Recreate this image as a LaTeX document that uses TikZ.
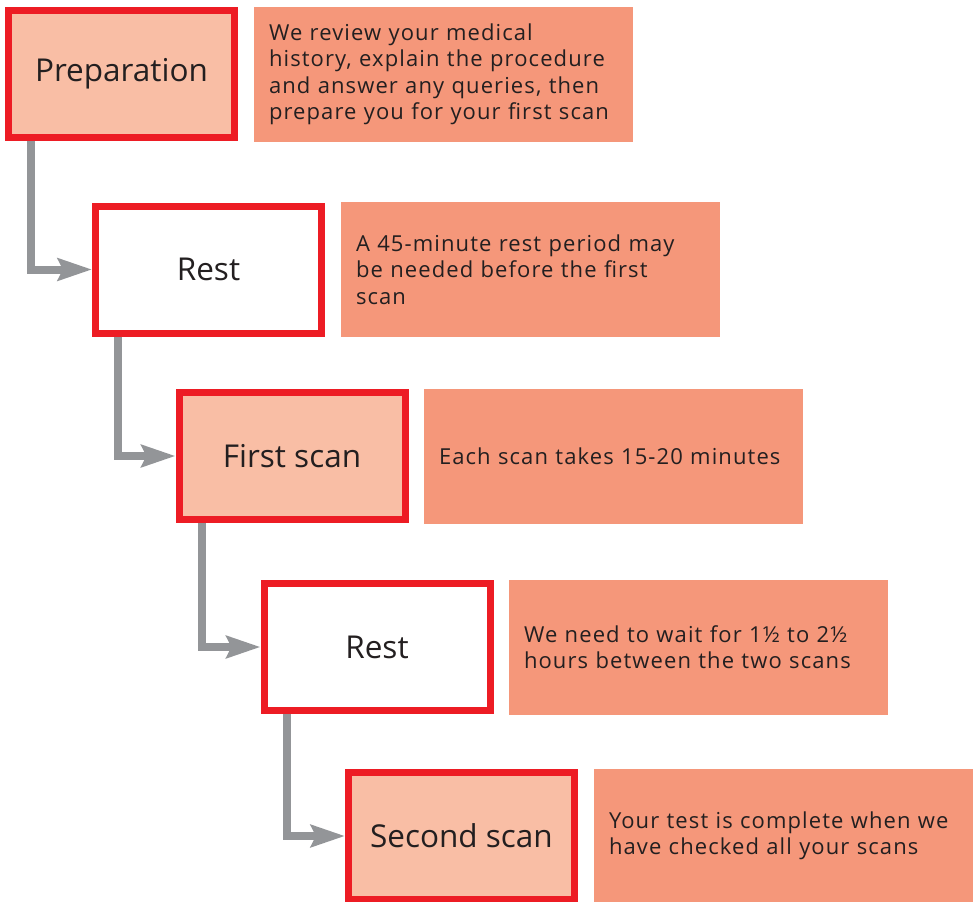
\documentclass[tikz,border=0pt]{standalone}
\usepackage{fontspec}
\setmainfont{Open Sans}
\newfontfamily\bodyfont{Open Sans}[LetterSpace=5]
\usetikzlibrary{arrows.meta}
\definecolor{bred}{HTML}{ED1C24}
\definecolor{lfill}{HTML}{F9BEA5}
\definecolor{dfill}{HTML}{F5977A}
\definecolor{agray}{HTML}{939598}
\definecolor{tcol}{HTML}{231F20}
\begin{document}
\begin{tikzpicture}[x=1pt,y=-1pt,
  stepbox/.style={draw=bred, line width=7pt, minimum width=226pt, minimum height=127pt,
    inner sep=0pt, font=\fontsize{31.5}{36}\selectfont, text=tcol},
  lightbox/.style={stepbox, fill=lfill},
  whitebox/.style={stepbox, fill=white},
  infobox/.style={fill=dfill, minimum width=379pt, minimum height=135pt, text width=349pt,
    align=left, inner sep=0pt, font=\bodyfont\fontsize{22}{26.5}\selectfont, text=tcol},
  flow/.style={draw=agray, line width=8pt, -{Stealth[inset=5pt, length=34pt 0, width=22pt 0]}}]
\useasboundingbox (0,0) rectangle (977,902);
\node[lightbox] (b1) at (121.5,74) {Preparation};
\node[infobox] (t1) at (443.5,74.5) {We review your medical\\history, explain the procedure\\and answer any queries, then\\prepare you for your first scan};
\node[whitebox] (b2) at (208.5,269.5) {Rest};
\node[infobox] (t2) at (530.5,269.5) {A 45-minute rest period may\\be needed before the first\\scan};
\node[lightbox] (b3) at (292,456) {First scan};
\node[infobox] (t3) at (613.5,456) {Each scan takes 15-20 minutes};
\node[whitebox] (b4) at (377,647) {Rest};
\node[infobox] (t4) at (698.5,647) {We need to wait for 1½ to 2½\\hours between the two scans};
\node[lightbox] (b5) at (461.5,836) {Second scan};
\node[infobox] (t5) at (783.5,836) {Your test is complete when we\\have checked all your scans};
\draw[flow] ([xshift=26pt]b1.south west) |- (b2.west);
\draw[flow] ([xshift=26pt]b2.south west) |- (b3.west);
\draw[flow] ([xshift=26pt]b3.south west) |- (b4.west);
\draw[flow] ([xshift=26pt]b4.south west) |- (b5.west);
\end{tikzpicture}
\end{document}
